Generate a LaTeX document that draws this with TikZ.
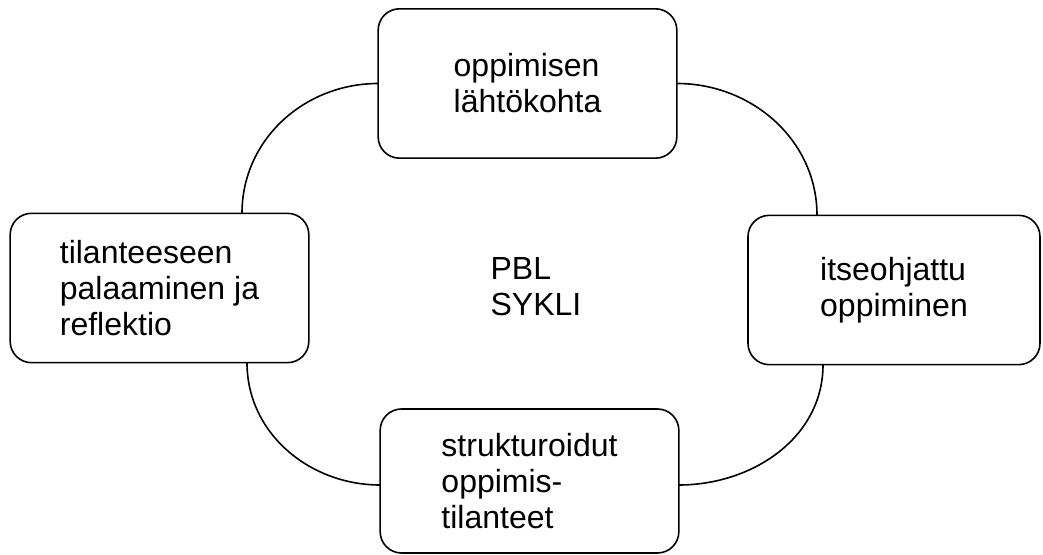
\documentclass[tikz,border=0pt]{standalone}
\usepackage{fontspec}
\setmainfont{Liberation Sans}
\usetikzlibrary{calc}
\tikzset{%
  % Specifications for style of nodes:
         base/.style = {rectangle, rounded corners=16pt, draw=black,
                        line width=1.2pt, inner sep=0pt, outer sep=0pt,
                        minimum width=224pt, minimum height=112pt,
                        align=left},
    cycleStep/.style = {base},
   cycleLink/.style = {line width=1.2pt},
}
\begin{document}
\begin{tikzpicture}[x=0.75pt, y=-0.75pt,
    every node/.style={font=\fontsize{24}{27}\selectfont}]
  \useasboundingbox (0,0) rectangle (1043,555);
  % Specification of nodes (position, etc.)
  \node (lahto)  [cycleStep] at (527.5,83.5)  {oppimisen\\lähtökohta};
  \node (itse)   [cycleStep, minimum width=219pt] at (894,290)
                 {itseohjattu\\oppiminen};
  \node (struk)  [cycleStep, minimum height=108pt] at (529.5,481)
                 {strukturoidut\\oppimis-\\tilanteet};
  \node (tila)   [cycleStep] at (159.5,288)
                 {tilanteeseen\\palaaminen ja\\reflektio};
  \node (sykli)  at (536,287) [align=left] {PBL\\SYKLI};

  % Specification of lines between nodes specified above
  \draw[cycleLink] (lahto.west) to[out=180, in=90] ($(tila.north)+(82.5,0)$);
  \draw[cycleLink] (lahto.east) to[out=0, in=90] ($(itse.north)+(-77,0)$);
  \draw[cycleLink] ($(itse.south)+(-71,0)$) to[out=-90, in=0] ($(struk.east)+(0,4)$);
  \draw[cycleLink] ($(struk.west)+(0,4)$) to[out=180, in=-90] ($(tila.south)+(87.5,0)$);
\end{tikzpicture}
\end{document}
